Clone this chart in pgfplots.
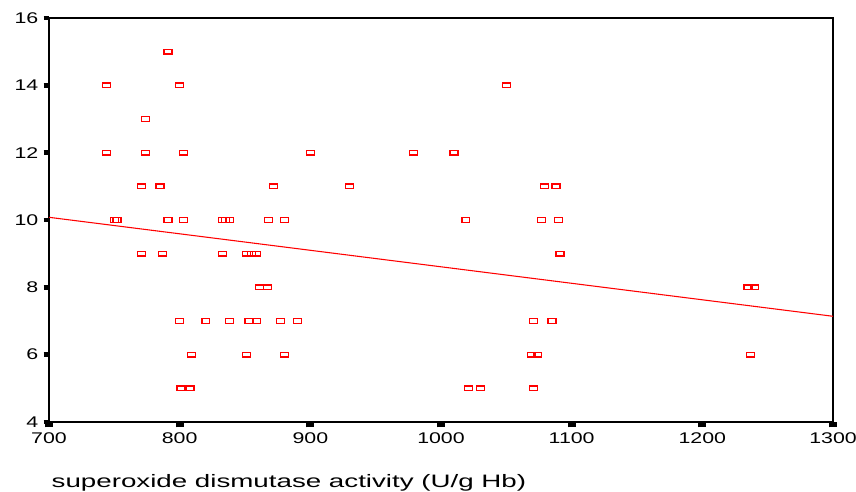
\documentclass[border=0pt]{standalone}
\usepackage{fontspec}
\setmainfont{Liberation Sans}
\newfontfamily\tickfont{Liberation Sans}[FakeStretch=1.38]
\newfontfamily\labfont{Liberation Sans}[FakeStretch=1.54]
\usepackage{pgfplots}
\pgfplotsset{compat=1.18}

\begin{document}
\begin{tikzpicture}
\begin{axis}[
    scale only axis,
    width=588pt, height=303pt,
    xmin=700, xmax=1300,
    ymin=4, ymax=16,
    xtick={700,800,...,1300},
    ytick={4,6,...,16},
    axis line style={black, line width=1.2pt},
    tick align=outside,
    tick pos=left,
    major tick length=4pt,
    major tick style={line width=3pt, black},
    major x tick style={line width=6pt, black},
    major y tick style={line width=3.5pt, black},
    tick label style={font=\fontsize{11.6pt}{13pt}\tickfont},
    /pgf/number format/assume math mode=true,
    /pgf/number format/1000 sep={},
    xticklabel style={yshift=-0.5pt},
    yticklabel style={xshift=-0.5pt},
    xlabel={superoxide dismutase activity (U/g Hb)},
    xlabel style={font=\fontsize{13.5pt}{15pt}\labfont, at={(0,0)}, anchor=west, xshift=-1.5pt, yshift=-45.75pt},
    clip=false,
]
\addplot[red, only marks, mark=square, mark size=1.75pt,
    mark options={xscale=1.7, draw=red, fill=white, line width=1pt}] coordinates {
(791,15)
(744,14) (800,14) (1050,14)
(774,13)
(744,12) (774,12) (803,12) (900,12) (979,12) (1010,12)
(771,11) (785,11) (872,11) (930,11) (1079,11) (1088,11)
(750,10) (752,10) (791,10) (803,10) (833,10) (835,10) (838,10) (868,10) (880,10) (1019,10) (1077,10) (1090,10)
(771,9) (787,9) (833,9) (851,9) (855,9) (859,9) (1091,9)
(861,8) (867,8) (1235,8) (1240,8)
(800,7) (820,7) (838,7) (853,7) (859,7) (877,7) (890,7) (1071,7) (1085,7)
(809,6) (851,6) (880,6) (1069,6) (1074,6) (1237,6)
(801,5) (808,5) (1021,5) (1030,5) (1071,5)
};
\addplot[red, line width=0.8pt, no marks] coordinates {(700,10.08) (1300,7.14)};
\coordinate (bl) at (rel axis cs:0,0);
\coordinate (tr) at (rel axis cs:1,1);
\end{axis}
\pgfresetboundingbox
\path ([shift={(-36.75pt,-52.5pt)}]bl) rectangle ([shift={(17.25pt,13.5pt)}]tr);
\end{tikzpicture}
\end{document}
